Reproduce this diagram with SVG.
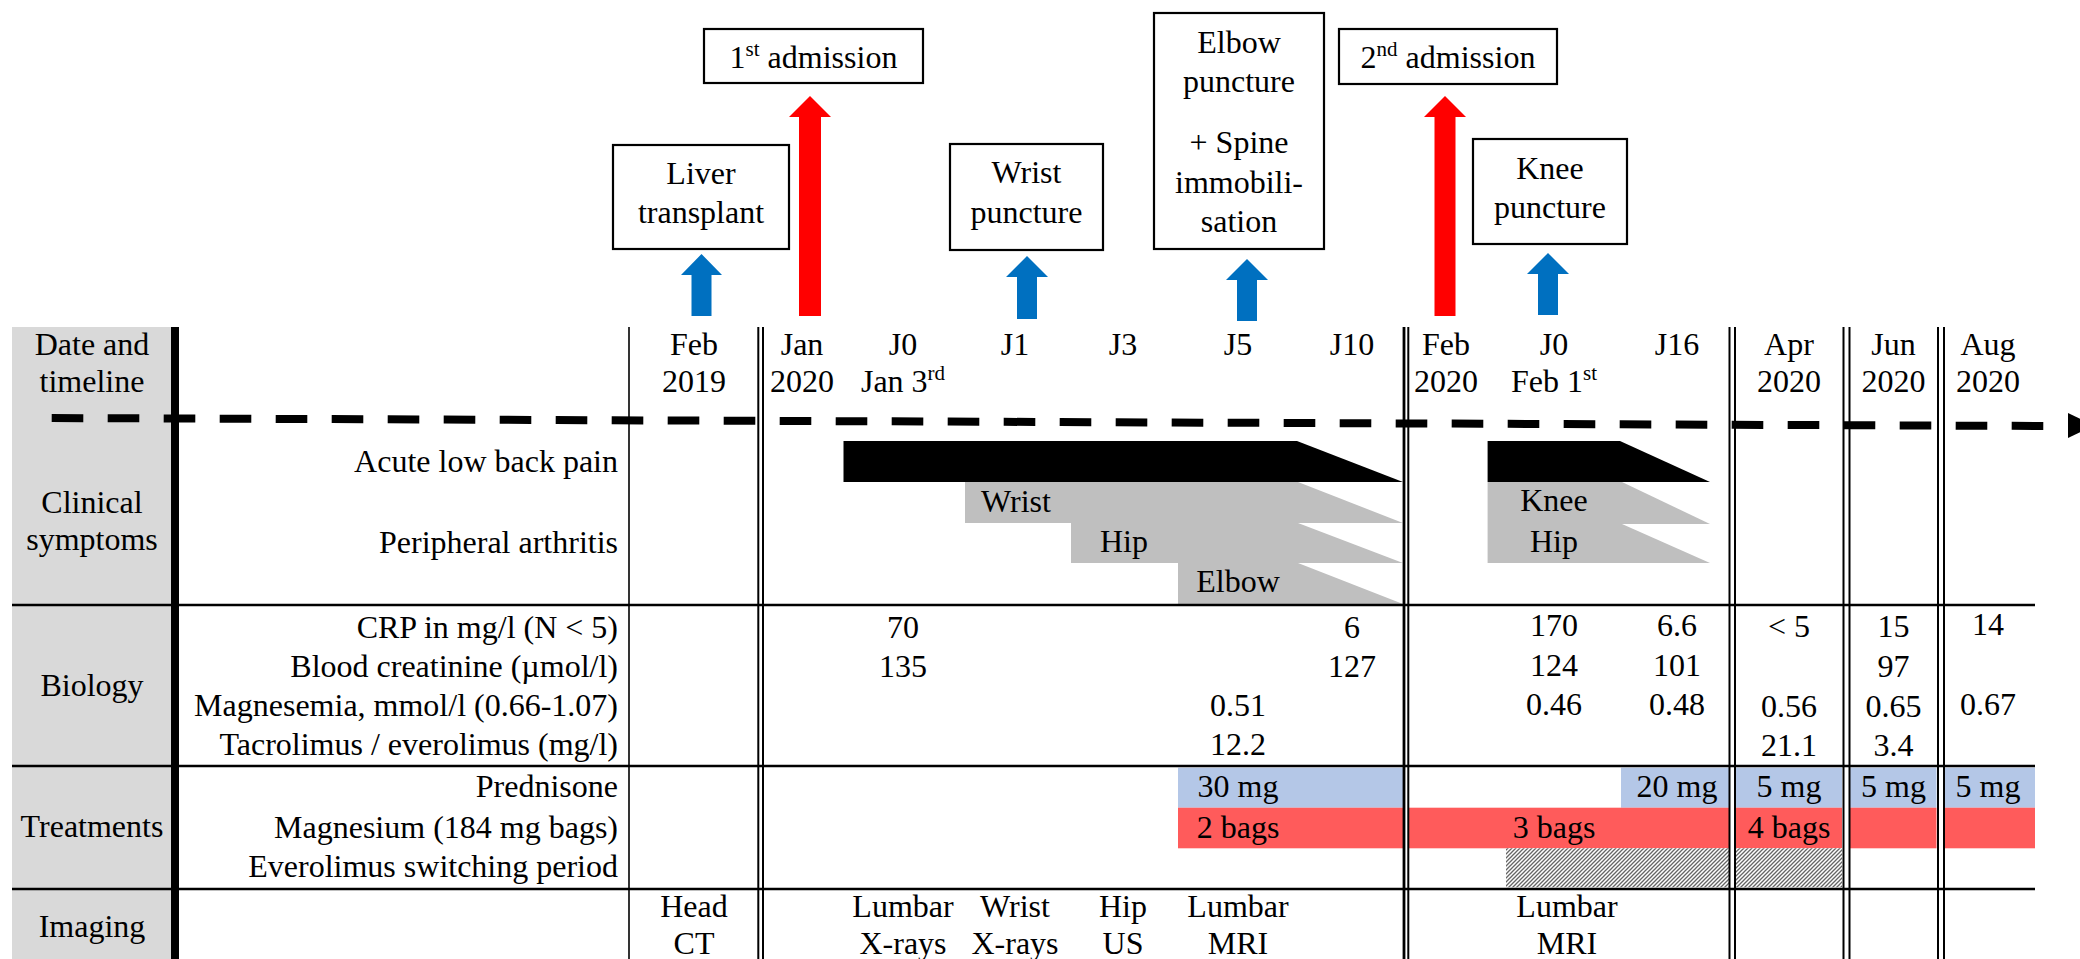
<svg xmlns="http://www.w3.org/2000/svg" width="2080" height="959" viewBox="0 0 2080 959">
<defs>
<style>
.box{fill:#fff;stroke:#000;stroke-width:2.2}
.hl{stroke:#000;stroke-width:2.5}
.vl{stroke:#000;stroke-width:2}
.blue{fill:#0070c0}
.red{fill:#ff0000}
.pred{fill:#b4c7e7}
.mg{fill:#ff5b5b}
.gbar{fill:#bfbfbf}
</style>
<pattern id="hatch" width="4" height="4" patternUnits="userSpaceOnUse">
<rect width="4" height="4" fill="#ffffff"/>
<path d="M-1,1 L1,-1 M0,4 L4,0 M3,5 L5,3" stroke="#666666" stroke-width="1.3"/>
</pattern>
</defs>
<rect width="2080" height="959" fill="#fff"/>

<g id="table">
<rect x="12" y="327" width="159" height="632" fill="#d9d9d9"/>
<polygon points="843.5,441 1297,441 1403,482 843.5,482" fill="#000"/>
<polygon class="gbar" points="965,482 1298,482 1403,523 965,523"/>
<polygon class="gbar" points="1071,523 1298,523 1403,563 1071,563"/>
<polygon class="gbar" points="1178,563 1298,563 1403,604 1178,604"/>
<polygon points="1487.6,441 1620,441 1710,482 1487.6,482" fill="#000"/>
<polygon class="gbar" points="1487.6,482 1622,482 1710,524 1487.6,524"/>
<polygon class="gbar" points="1487.6,524 1622,524 1710,563 1487.6,563"/>
<rect class="pred" x="1178" y="767.7" width="225" height="40"/>
<rect class="pred" x="1621" y="767.7" width="108.6" height="40"/>
<rect class="pred" x="1736" y="767.7" width="106" height="40"/>
<rect class="pred" x="1850" y="767.7" width="86.5" height="40"/>
<rect class="pred" x="1945" y="767.7" width="90" height="40"/>
<rect class="mg" x="1178" y="807.7" width="225" height="40.6"/>
<rect class="mg" x="1409" y="807.7" width="320.6" height="40.6"/>
<rect class="mg" x="1736" y="807.7" width="106" height="40.6"/>
<rect class="mg" x="1850" y="807.7" width="86.5" height="40.6"/>
<rect class="mg" x="1945" y="807.7" width="90" height="40.6"/>
<rect x="1506" y="848.3" width="223.6" height="39" fill="url(#hatch)"/>
<rect x="1736" y="848.3" width="106" height="39" fill="url(#hatch)"/>

<line class="hl" x1="12" y1="605" x2="2035" y2="605"/>
<line class="hl" x1="12" y1="766" x2="2035" y2="766"/>
<line class="hl" x1="12" y1="889" x2="2035" y2="889"/>

<rect x="171" y="327" width="8" height="632" fill="#000"/>
<line x1="629" y1="327" x2="629" y2="959" stroke="#000" stroke-width="1.6"/>
<line class="vl" x1="758.3" y1="327" x2="758.3" y2="959"/>
<line class="vl" x1="763" y1="327" x2="763" y2="959"/>
<line x1="1404" y1="327" x2="1404" y2="959" stroke="#000" stroke-width="2.8"/>
<line class="vl" x1="1408.3" y1="327" x2="1408.3" y2="959"/>
<line class="vl" x1="1729.5" y1="327" x2="1729.5" y2="959"/>
<line class="vl" x1="1735" y1="327" x2="1735" y2="959"/>
<line class="vl" x1="1843.5" y1="327" x2="1843.5" y2="959"/>
<line class="vl" x1="1849.5" y1="327" x2="1849.5" y2="959"/>
<line class="vl" x1="1938" y1="327" x2="1938" y2="959"/>
<line class="vl" x1="1944" y1="327" x2="1944" y2="959"/>

<line x1="51.7" y1="418" x2="2043.3" y2="426" stroke="#000" stroke-width="8" stroke-dasharray="31.6 24.4"/>
<polygon points="2068,413 2068,438 2094,425.5" fill="#000"/>

<text font-family="Liberation Serif" font-size="32" text-anchor="middle" x="92" y="355">Date and</text>
<text font-family="Liberation Serif" font-size="32" text-anchor="middle" x="92" y="392">timeline</text>
<text font-family="Liberation Serif" font-size="32" text-anchor="middle" x="92" y="513">Clinical</text>
<text font-family="Liberation Serif" font-size="32" text-anchor="middle" x="92" y="550">symptoms</text>
<text font-family="Liberation Serif" font-size="32" text-anchor="middle" x="92" y="696">Biology</text>
<text font-family="Liberation Serif" font-size="32" text-anchor="middle" x="92" y="837">Treatments</text>
<text font-family="Liberation Serif" font-size="32" text-anchor="middle" x="92" y="937">Imaging</text>

<text font-family="Liberation Serif" font-size="32" text-anchor="end" x="618" y="472">Acute low back pain</text>
<text font-family="Liberation Serif" font-size="32" text-anchor="end" x="618" y="553">Peripheral arthritis</text>
<text font-family="Liberation Serif" font-size="32" text-anchor="end" x="618" y="638">CRP in mg/l (N &lt; 5)</text>
<text font-family="Liberation Serif" font-size="32" text-anchor="end" x="618" y="677">Blood creatinine (&#181;mol/l)</text>
<text font-family="Liberation Serif" font-size="32" text-anchor="end" x="618" y="716">Magnesemia, mmol/l (0.66-1.07)</text>
<text font-family="Liberation Serif" font-size="32" text-anchor="end" x="618" y="755">Tacrolimus / everolimus (mg/l)</text>
<text font-family="Liberation Serif" font-size="32" text-anchor="end" x="618" y="797">Prednisone</text>
<text font-family="Liberation Serif" font-size="32" text-anchor="end" x="618" y="838">Magnesium (184 mg bags)</text>
<text font-family="Liberation Serif" font-size="32" text-anchor="end" x="618" y="877">Everolimus switching period</text>

<text font-family="Liberation Serif" font-size="32" text-anchor="middle" x="694" y="355">Feb</text>
<text font-family="Liberation Serif" font-size="32" text-anchor="middle" x="694" y="392">2019</text>
<text font-family="Liberation Serif" font-size="32" text-anchor="middle" x="802" y="355">Jan</text>
<text font-family="Liberation Serif" font-size="32" text-anchor="middle" x="802" y="392">2020</text>
<text font-family="Liberation Serif" font-size="32" text-anchor="middle" x="903" y="355">J0</text>
<text font-family="Liberation Serif" font-size="32" text-anchor="middle" x="903" y="392">Jan 3<tspan font-size="21" dy="-12">rd</tspan></text>
<text font-family="Liberation Serif" font-size="32" text-anchor="middle" x="1015" y="355">J1</text>
<text font-family="Liberation Serif" font-size="32" text-anchor="middle" x="1123" y="355">J3</text>
<text font-family="Liberation Serif" font-size="32" text-anchor="middle" x="1238" y="355">J5</text>
<text font-family="Liberation Serif" font-size="32" text-anchor="middle" x="1352" y="355">J10</text>
<text font-family="Liberation Serif" font-size="32" text-anchor="middle" x="1446" y="355">Feb</text>
<text font-family="Liberation Serif" font-size="32" text-anchor="middle" x="1446" y="392">2020</text>
<text font-family="Liberation Serif" font-size="32" text-anchor="middle" x="1554" y="355">J0</text>
<text font-family="Liberation Serif" font-size="32" text-anchor="middle" x="1554" y="392">Feb 1<tspan font-size="21" dy="-12">st</tspan></text>
<text font-family="Liberation Serif" font-size="32" text-anchor="middle" x="1677" y="355">J16</text>
<text font-family="Liberation Serif" font-size="32" text-anchor="middle" x="1789" y="355">Apr</text>
<text font-family="Liberation Serif" font-size="32" text-anchor="middle" x="1789" y="392">2020</text>
<text font-family="Liberation Serif" font-size="32" text-anchor="middle" x="1893.5" y="355">Jun</text>
<text font-family="Liberation Serif" font-size="32" text-anchor="middle" x="1893.5" y="392">2020</text>
<text font-family="Liberation Serif" font-size="32" text-anchor="middle" x="1988" y="355">Aug</text>
<text font-family="Liberation Serif" font-size="32" text-anchor="middle" x="1988" y="392">2020</text>

<text font-family="Liberation Serif" font-size="32" text-anchor="middle" x="1016" y="512">Wrist</text>
<text font-family="Liberation Serif" font-size="32" text-anchor="middle" x="1124" y="552">Hip</text>
<text font-family="Liberation Serif" font-size="32" text-anchor="middle" x="1238" y="592">Elbow</text>
<text font-family="Liberation Serif" font-size="32" text-anchor="middle" x="1554" y="511">Knee</text>
<text font-family="Liberation Serif" font-size="32" text-anchor="middle" x="1554" y="552">Hip</text>

<text font-family="Liberation Serif" font-size="32" text-anchor="middle" x="903" y="638">70</text>
<text font-family="Liberation Serif" font-size="32" text-anchor="middle" x="903" y="677">135</text>
<text font-family="Liberation Serif" font-size="32" text-anchor="middle" x="1352" y="638">6</text>
<text font-family="Liberation Serif" font-size="32" text-anchor="middle" x="1352" y="677">127</text>
<text font-family="Liberation Serif" font-size="32" text-anchor="middle" x="1238" y="716">0.51</text>
<text font-family="Liberation Serif" font-size="32" text-anchor="middle" x="1238" y="755">12.2</text>
<text font-family="Liberation Serif" font-size="32" text-anchor="middle" x="1554" y="636">170</text>
<text font-family="Liberation Serif" font-size="32" text-anchor="middle" x="1554" y="676">124</text>
<text font-family="Liberation Serif" font-size="32" text-anchor="middle" x="1554" y="715">0.46</text>
<text font-family="Liberation Serif" font-size="32" text-anchor="middle" x="1677" y="636">6.6</text>
<text font-family="Liberation Serif" font-size="32" text-anchor="middle" x="1677" y="676">101</text>
<text font-family="Liberation Serif" font-size="32" text-anchor="middle" x="1677" y="715">0.48</text>
<text font-family="Liberation Serif" font-size="32" text-anchor="middle" x="1789" y="637">&lt; 5</text>
<text font-family="Liberation Serif" font-size="32" text-anchor="middle" x="1789" y="717">0.56</text>
<text font-family="Liberation Serif" font-size="32" text-anchor="middle" x="1789" y="756">21.1</text>
<text font-family="Liberation Serif" font-size="32" text-anchor="middle" x="1893.5" y="637">15</text>
<text font-family="Liberation Serif" font-size="32" text-anchor="middle" x="1893.5" y="677">97</text>
<text font-family="Liberation Serif" font-size="32" text-anchor="middle" x="1893.5" y="717">0.65</text>
<text font-family="Liberation Serif" font-size="32" text-anchor="middle" x="1893.5" y="756">3.4</text>
<text font-family="Liberation Serif" font-size="32" text-anchor="middle" x="1988" y="635">14</text>
<text font-family="Liberation Serif" font-size="32" text-anchor="middle" x="1988" y="715">0.67</text>

<text font-family="Liberation Serif" font-size="32" text-anchor="middle" x="1238" y="797">30 mg</text>
<text font-family="Liberation Serif" font-size="32" text-anchor="middle" x="1677" y="797">20 mg</text>
<text font-family="Liberation Serif" font-size="32" text-anchor="middle" x="1789" y="797">5 mg</text>
<text font-family="Liberation Serif" font-size="32" text-anchor="middle" x="1893.5" y="797">5 mg</text>
<text font-family="Liberation Serif" font-size="32" text-anchor="middle" x="1988" y="797">5 mg</text>
<text font-family="Liberation Serif" font-size="32" text-anchor="middle" x="1238" y="838">2 bags</text>
<text font-family="Liberation Serif" font-size="32" text-anchor="middle" x="1554" y="838">3 bags</text>
<text font-family="Liberation Serif" font-size="32" text-anchor="middle" x="1789" y="838">4 bags</text>

<text font-family="Liberation Serif" font-size="32" text-anchor="middle" x="694" y="917">Head</text>
<text font-family="Liberation Serif" font-size="32" text-anchor="middle" x="694" y="954">CT</text>
<text font-family="Liberation Serif" font-size="32" text-anchor="middle" x="903" y="917">Lumbar</text>
<text font-family="Liberation Serif" font-size="32" text-anchor="middle" x="903" y="954">X-rays</text>
<text font-family="Liberation Serif" font-size="32" text-anchor="middle" x="1015" y="917">Wrist</text>
<text font-family="Liberation Serif" font-size="32" text-anchor="middle" x="1015" y="954">X-rays</text>
<text font-family="Liberation Serif" font-size="32" text-anchor="middle" x="1123" y="917">Hip</text>
<text font-family="Liberation Serif" font-size="32" text-anchor="middle" x="1123" y="954">US</text>
<text font-family="Liberation Serif" font-size="32" text-anchor="middle" x="1238" y="917">Lumbar</text>
<text font-family="Liberation Serif" font-size="32" text-anchor="middle" x="1238" y="954">MRI</text>
<text font-family="Liberation Serif" font-size="32" text-anchor="middle" x="1567" y="917">Lumbar</text>
<text font-family="Liberation Serif" font-size="32" text-anchor="middle" x="1567" y="954">MRI</text>
</g>

<g id="node-liver">
<rect class="box" x="613" y="145" width="176" height="104"/>
<text font-family="Liberation Serif" font-size="32" text-anchor="middle" x="701" y="184">Liver</text>
<text font-family="Liberation Serif" font-size="32" text-anchor="middle" x="701" y="223">transplant</text>
</g>
<g id="node-adm1">
<rect class="box" x="704" y="29" width="219" height="54"/>
<text font-family="Liberation Serif" font-size="32" text-anchor="middle" x="813.5" y="68">1<tspan font-size="21" dy="-12">st</tspan><tspan dy="12"> admission</tspan></text>
</g>
<g id="node-wrist">
<rect class="box" x="950" y="144" width="153" height="106"/>
<text font-family="Liberation Serif" font-size="32" text-anchor="middle" x="1026.5" y="183">Wrist</text>
<text font-family="Liberation Serif" font-size="32" text-anchor="middle" x="1026.5" y="223">puncture</text>
</g>
<g id="node-elbow">
<rect class="box" x="1154" y="13" width="170" height="236"/>
<text font-family="Liberation Serif" font-size="32" text-anchor="middle" x="1239" y="53">Elbow</text>
<text font-family="Liberation Serif" font-size="32" text-anchor="middle" x="1239" y="92">puncture</text>
<text font-family="Liberation Serif" font-size="32" text-anchor="middle" x="1239" y="153">+ Spine</text>
<text font-family="Liberation Serif" font-size="32" text-anchor="middle" x="1239" y="193">immobili-</text>
<text font-family="Liberation Serif" font-size="32" text-anchor="middle" x="1239" y="232">sation</text>
</g>
<g id="node-adm2">
<rect class="box" x="1339" y="29" width="218" height="55"/>
<text font-family="Liberation Serif" font-size="32" text-anchor="middle" x="1448" y="68">2<tspan font-size="21" dy="-12">nd</tspan><tspan dy="12"> admission</tspan></text>
</g>
<g id="node-knee">
<rect class="box" x="1473" y="139" width="154" height="105"/>
<text font-family="Liberation Serif" font-size="32" text-anchor="middle" x="1550" y="179">Knee</text>
<text font-family="Liberation Serif" font-size="32" text-anchor="middle" x="1550" y="218">puncture</text>
</g>

<g id="connectors">
<polygon class="blue" points="691.5,316 691.5,275 681,275 701.5,254 722,275 711.5,275 711.5,316"/>
<polygon class="red" points="799,316 799,117 789,117 810,96 831,117 821,117 821,316"/>
<polygon class="blue" points="1017,319 1017,277 1006,277 1027,256 1048,277 1037,277 1037,319"/>
<polygon class="blue" points="1237,321 1237,280 1226,280 1247,259 1268,280 1257,280 1257,321"/>
<polygon class="red" points="1434.5,316 1434.5,117 1424,117 1445,96 1466,117 1455.5,117 1455.5,316"/>
<polygon class="blue" points="1538,315 1538,274 1527,274 1548,253 1569,274 1558,274 1558,315"/>
</g>
</svg>
